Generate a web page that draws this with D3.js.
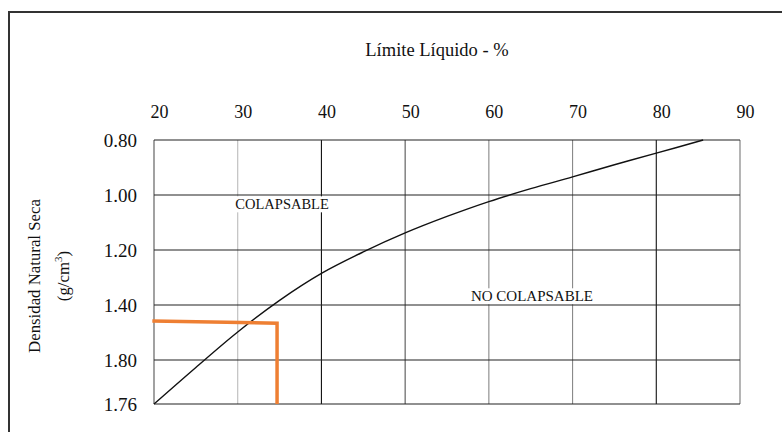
<!DOCTYPE html>
<html>
<head>
<meta charset="utf-8">
<script src="https://cdn.jsdelivr.net/npm/d3@7"></script>
<style>
  body { margin: 0; background: #fff; }
  text { font-family: "Liberation Serif", "Times New Roman", serif; fill: #111; }
</style>
</head>
<body>
<svg id="svg"></svg>
<script>
// liquid limit (%) vs dry natural density (g/cm3)
const xTicks = [20, 30, 40, 50, 60, 70, 80, 90];
const yTicks = [0.80, 1.00, 1.20, 1.40, 1.60, 1.76];
const yLabels = ["0.80", "1.00", "1.20", "1.40", "1.80", "1.76"];

const curveLL = [20, 25, 30, 35, 40, 45, 50, 55, 60, 65, 70, 75, 80, 85.6];
const curveDens = [1.76, 1.627, 1.498, 1.383, 1.285, 1.207, 1.138, 1.078, 1.024, 0.977, 0.934, 0.89, 0.848, 0.80];

// orange reading: density ~1.46 at LL ~34.7
const markLL = [19.8, 34.7, 34.7];
const markDens = [1.458, 1.466, 1.76];

const labels = [
  { text: "COLAPSABLE", ll: 35.3, dens: 1.04, size: 14.5 },
  { text: "NO COLAPSABLE", ll: 65.15, dens: 1.374, size: 15 }
];

function createVisualization() {
  let w = 782, h = 432;
  let svg = d3.select("#svg").attr("width", w).attr("height", h);

  // outer frame, cut at right and bottom
  svg.append("rect")
    .attr("x", 9).attr("y", 12)
    .attr("width", 800).attr("height", 450)
    .attr("fill", "none").attr("stroke", "#333").attr("stroke-width", 2);

  let x = d3.scaleLinear().domain([20, 90]).range([154, 740]);
  let y = d3.scaleLinear().domain([0.80, 1.76]).range([140, 404]);

  // grid
  let vColor = { 30: "#bbb", 40: "#111", 50: "#555", 60: "#888", 70: "#888", 80: "#111", 90: "#777" };
  svg.append("g").selectAll("line")
    .data(xTicks.slice(1))
    .enter().append("line")
    .attr("x1", d => x(d)).attr("x2", d => x(d))
    .attr("y1", y(0.80)).attr("y2", y(1.76))
    .attr("stroke", d => vColor[d] || "#333")
    .attr("stroke-width", 1.1);

  svg.append("line")
    .attr("x1", x(20)).attr("x2", x(20))
    .attr("y1", y(0.80)).attr("y2", y(1.76))
    .attr("stroke", "#555").attr("stroke-width", 1.1);

  // region labels with white boxes (over vertical lines only)
  labels.forEach(l => {
    let g = svg.append("g");
    let t = g.append("text")
      .attr("x", x(l.ll)).attr("y", y(l.dens))
      .attr("text-anchor", "middle")
      .attr("dominant-baseline", "middle")
      .style("font-size", l.size + "px")
      .text(l.text);
    let bb = t.node().getBBox();
    g.insert("rect", "text")
      .attr("x", bb.x - 3).attr("y", bb.y)
      .attr("width", bb.width + 6).attr("height", bb.height)
      .attr("fill", "#fff");
  });

  // horizontal grid drawn after the label boxes
  svg.append("g").selectAll("line")
    .data(yTicks)
    .enter().append("line")
    .attr("x1", x(20)).attr("x2", x(90))
    .attr("y1", d => y(d)).attr("y2", d => y(d))
    .attr("stroke", "#222")
    .attr("stroke-width", 1.1);

  // axes
  let xAxis = svg.append("g")
    .attr("transform", "translate(0,140)")
    .call(d3.axisTop(x).tickValues(xTicks).tickSize(0).tickPadding(22).tickFormat(d3.format("d")));
  xAxis.select(".domain").remove();
  xAxis.selectAll("text")
    .attr("dx", 5)
    .style("font-size", "18px")
    .style("font-family", "Liberation Serif");

  let yAxis = svg.append("g")
    .attr("transform", "translate(154,0)")
    .call(d3.axisLeft(y).tickValues(yTicks).tickSize(0).tickPadding(17).tickFormat((d, i) => yLabels[i]));
  yAxis.select(".domain").remove();
  yAxis.selectAll("text")
    .style("font-size", "19px")
    .style("font-family", "Liberation Serif");

  // titles
  svg.append("text")
    .attr("x", 437).attr("y", 56)
    .attr("text-anchor", "middle")
    .style("font-size", "18.5px")
    .text("Límite Líquido - %");

  let yt = svg.append("g").attr("transform", "translate(40,276) rotate(-90)");
  yt.append("text")
    .attr("text-anchor", "middle")
    .style("font-size", "16.8px")
    .text("Densidad Natural Seca");
  let yt2 = yt.append("text")
    .attr("y", 29)
    .attr("text-anchor", "middle")
    .style("font-size", "16.8px");
  yt2.append("tspan").text("(g/cm");
  yt2.append("tspan").attr("dy", -7).style("font-size", "11px").text("3");
  yt2.append("tspan").attr("dy", 7).text(")");

  // curve
  let line = d3.line().x(d => x(d[0])).y(d => y(d[1])).curve(d3.curveCatmullRom);
  svg.append("path")
    .datum(d3.zip(curveLL, curveDens))
    .attr("d", line)
    .attr("fill", "none")
    .attr("stroke", "#111")
    .attr("stroke-width", 1.4);

  // orange reading line
  svg.append("path")
    .datum(d3.zip(markLL, markDens))
    .attr("d", d3.line().x(d => x(d[0])).y(d => y(d[1])))
    .attr("fill", "none")
    .attr("stroke", "#ee7f33")
    .attr("stroke-width", 3.5);
}

window.onload = function() {
  createVisualization();
};
</script>
</body>
</html>
